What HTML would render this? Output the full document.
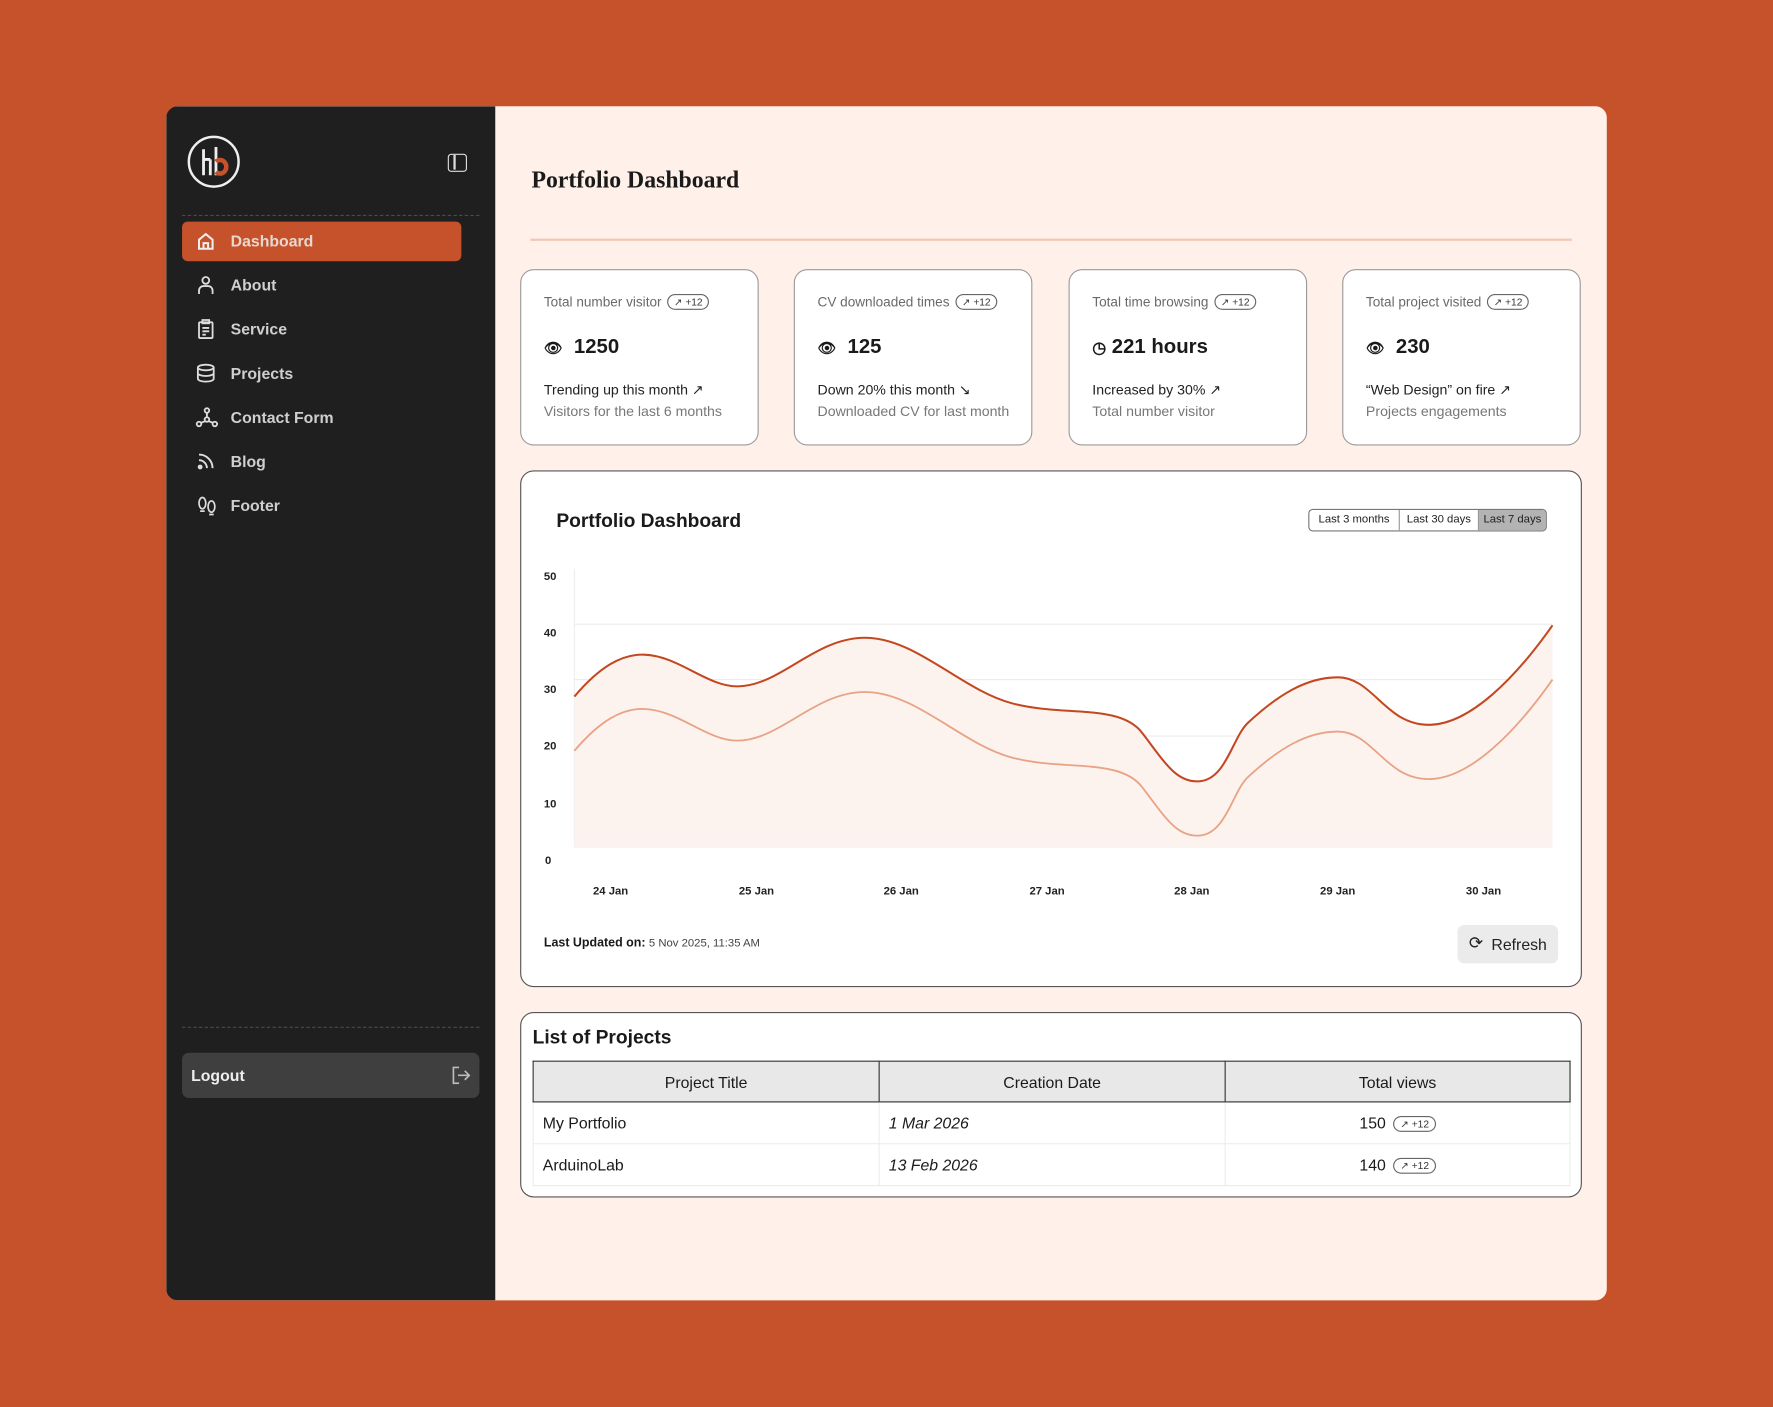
<!DOCTYPE html>
<html><head><meta charset="utf-8"><style>
*{margin:0;padding:0;box-sizing:border-box}
html,body{width:1773px;height:1407px;overflow:hidden;background:#C5522A}
#s{position:absolute;left:0;top:0;width:1568px;height:1244px;transform:scale(1.13074);transform-origin:0 0;font-family:"Liberation Sans",sans-serif;}
.a{position:absolute}
.card{position:absolute;left:147px;top:94px;width:1274px;height:1056px;border-radius:10px;overflow:hidden;background:#FFF0E9}
.side{position:absolute;left:0;top:0;width:291px;height:1056px;background:#1f1f1f}
.mi{position:absolute;left:14px;width:247px;height:35px;color:#cfcfcf;font-size:14px;font-weight:bold;line-height:35px;padding-left:43px}
.mi svg{position:absolute;left:12px;top:8px}
.stat{position:absolute;top:238px;width:211px;height:156px;background:#fff;border:1.3px solid #9a9a9a;border-radius:12px}
.lab{position:absolute;left:20px;top:21px;font-size:12px;color:#6a6a6a;white-space:nowrap}
.badge{display:inline-block;border:1px solid #666;border-radius:8px;font-size:9px;color:#333;padding:0 5px;margin-left:5px;line-height:12px;vertical-align:1px}
.val{position:absolute;left:20px;top:57px;font-size:18px;font-weight:bold;color:#1a1a1a;white-space:nowrap}
.l1{position:absolute;left:20px;top:98px;font-size:12.5px;color:#222;white-space:nowrap}
.l2{position:absolute;left:20px;top:118px;font-size:12.5px;color:#777;white-space:nowrap}
.yl{position:absolute;left:20px;font-size:10px;font-weight:bold;color:#222}
.xl{position:absolute;top:366px;font-size:10px;font-weight:bold;color:#222;width:60px;text-align:center}
td,th{border:1px solid #ececec;height:37px;font-size:14px;color:#1a1a1a;font-weight:normal}
th{background:#e8e8e8;border:1.5px solid #333;height:36px}
</style></head><body><div id="s">
<div class="card">
 <div class="side">
  <svg class="a" style="left:18px;top:25px" width="50" height="50" viewBox="0 0 50 50"><circle cx="24" cy="24" r="22" fill="none" stroke="#eee" stroke-width="2.2"/><path d="M15 13v23M15 22h6M21 22v14M26 11v25" stroke="#eee" stroke-width="2.5" fill="none"/><path d="M26 24a5.5 6 0 1 1 0 9" stroke="#C5522A" stroke-width="4" fill="none"/></svg>
  <div class="a" style="left:249px;top:42px;width:17px;height:16px;border:1.5px solid #ddd;border-radius:3px"><div style="position:absolute;left:4px;top:0;width:1.5px;height:13px;background:#ddd"></div></div>
  <div class="a" style="left:14px;top:96px;width:263px;border-top:1px dashed #4a4a4a"></div>
  <div class="mi" style="top:102px;background:#C5522A;border-radius:5px;color:#e6d8d0">
   <svg width="18" height="18" viewBox="0 0 18 18" fill="none" stroke="#eee" stroke-width="1.8"><path d="M3 8l6-5 6 5v8H3zM7 16v-5h4v5"/></svg>Dashboard</div>
  <div class="mi" style="top:141px"><svg width="18" height="18" viewBox="0 0 18 18" fill="none" stroke="#ddd" stroke-width="1.6"><circle cx="9" cy="5" r="3"/><path d="M3 17v-3a4 4 0 0 1 4-4h4a4 4 0 0 1 4 4v3"/></svg>About</div>
  <div class="mi" style="top:180px"><svg width="18" height="18" viewBox="0 0 18 18" fill="none" stroke="#ddd" stroke-width="1.6"><rect x="3" y="3" width="12" height="14" rx="1"/><path d="M6 1h6v3H6zM6 8h6M6 11h6M6 14h3"/></svg>Service</div>
  <div class="mi" style="top:219px"><svg width="18" height="18" viewBox="0 0 18 18" fill="none" stroke="#ddd" stroke-width="1.6"><ellipse cx="9" cy="4" rx="7" ry="2.5"/><path d="M2 4v10c0 1.4 3 2.5 7 2.5s7-1.1 7-2.5V4M2 9c0 1.4 3 2.5 7 2.5s7-1.1 7-2.5"/></svg>Projects</div>
  <div class="mi" style="top:258px"><svg width="20" height="18" viewBox="0 0 20 18" fill="none" stroke="#ddd" stroke-width="1.6"><circle cx="10" cy="3" r="2"/><circle cx="3" cy="15" r="2"/><circle cx="17" cy="15" r="2"/><circle cx="10" cy="11" r="2"/><path d="M10 5v4M8.5 12.5l-4 1.5M11.5 12.5l4 1.5"/></svg>Contact Form</div>
  <div class="mi" style="top:297px"><svg width="18" height="18" viewBox="0 0 18 18" fill="none" stroke="#ddd" stroke-width="1.7"><path d="M3 3a12 12 0 0 1 12 12M3 8a7 7 0 0 1 7 7"/><circle cx="4" cy="14" r="1.3" fill="#ddd"/></svg>Blog</div>
  <div class="mi" style="top:336px"><svg width="20" height="20" viewBox="0 0 20 20" fill="none" stroke="#ddd" stroke-width="1.5"><ellipse cx="6" cy="7" rx="3" ry="5"/><ellipse cx="14" cy="10" rx="3" ry="5"/><path d="M4 14h4M12 17h4"/></svg>Footer</div>
  <div class="a" style="left:14px;top:814px;width:263px;border-top:1px dashed #4a4a4a"></div>
  <div class="a" style="left:14px;top:837px;width:263px;height:40px;background:#3f3f3f;border-radius:6px;color:#eee;font-size:14px;font-weight:bold;line-height:40px;padding-left:8px">Logout
   <svg class="a" style="right:8px;top:12px" width="17" height="16" viewBox="0 0 17 16" fill="none" stroke="#bbb" stroke-width="1.5"><path d="M7 1H2v14h5M6 8h10M12 4l4 4-4 4"/></svg></div>
 </div>
 <div class="a" style="left:323px;top:53px;font-family:'Liberation Serif',serif;font-weight:bold;font-size:21px;color:#1a1a1a">Portfolio Dashboard</div>
 <div class="a" style="left:322px;top:117px;width:921px;height:2px;background:#f3c7b5"></div>
</div>

<div class="stat" style="left:460px"><div class="lab">Total number visitor<span class="badge">↗ +12</span></div><div class="val"><span style="font-size:13px">👁&#xFE0E;</span>&nbsp; 1250</div><div class="l1">Trending up this month ↗</div><div class="l2">Visitors for the last 6 months</div></div>
<div class="stat" style="left:702px"><div class="lab">CV downloaded times<span class="badge">↗ +12</span></div><div class="val"><span style="font-size:13px">👁&#xFE0E;</span>&nbsp; 125</div><div class="l1">Down 20% this month ↘</div><div class="l2">Downloaded CV for last month</div></div>
<div class="stat" style="left:945px"><div class="lab">Total time browsing<span class="badge">↗ +12</span></div><div class="val"><span style="font-size:14px">◷</span> 221 hours</div><div class="l1">Increased by 30% ↗</div><div class="l2">Total number visitor</div></div>
<div class="stat" style="left:1187px"><div class="lab">Total project visited<span class="badge">↗ +12</span></div><div class="val"><span style="font-size:13px">👁&#xFE0E;</span>&nbsp; 230</div><div class="l1">“Web Design” on fire ↗</div><div class="l2">Projects engagements</div></div>

<div class="a" style="left:460px;top:416px;width:939px;height:457px;background:#fff;border:1.3px solid #555;border-radius:12px">
 <div class="a" style="left:31px;top:34px;font-size:17px;font-weight:bold;color:#1a1a1a">Portfolio Dashboard</div>
 <div class="a" style="left:696px;top:33px;width:211px;height:20px;border:1px solid #777;border-radius:4px;overflow:hidden;font-size:10px;color:#222;line-height:18px;display:flex">
  <div style="width:80px;text-align:center;border-right:1px solid #999">Last 3 months</div><div style="width:70px;text-align:center;border-right:1px solid #999">Last 30 days</div><div style="flex:1;text-align:center;background:#b3b3b3">Last 7 days</div></div>
 <div class="yl" style="top:88px">50</div><div class="yl" style="top:138px">40</div><div class="yl" style="top:188px">30</div><div class="yl" style="top:238px">20</div><div class="yl" style="top:289px">10</div><div class="yl" style="top:339px;left:21px">0</div>
 <div class="xl" style="left:49px">24 Jan</div><div class="xl" style="left:178px">25 Jan</div><div class="xl" style="left:306px">26 Jan</div><div class="xl" style="left:435px">27 Jan</div><div class="xl" style="left:563px">28 Jan</div><div class="xl" style="left:692px">29 Jan</div><div class="xl" style="left:821px">30 Jan</div>
 <div class="a" style="left:20px;top:411px;font-size:11px;font-weight:bold;color:#1a1a1a">Last Updated on: <span style="font-weight:normal;font-size:10px;color:#444">5 Nov 2025, 11:35 AM</span></div>
 <div class="a" style="left:828px;top:401px;width:89px;height:34px;background:#ebebeb;border-radius:6px;font-size:14px;color:#222;line-height:34px;text-align:right;padding-right:10px"><span style="position:absolute;left:10px;font-size:15px">⟳</span>Refresh</div>
</div>
<svg class="a" style="left:0;top:0" width="1568" height="1244">
 <line x1="508" y1="503" x2="508" y2="749" stroke="#eee"/>
 <g stroke="#ececec"><line x1="508" y1="552" x2="1373" y2="552"/><line x1="508" y1="601" x2="1373" y2="601"/><line x1="508" y1="651" x2="1373" y2="651"/><line x1="508" y1="700" x2="1373" y2="700"/><line x1="508" y1="749" x2="1373" y2="749"/></g>
 <path d="M508,616 C530,590 550,578 570,579 C600,580 625,607 652,607 C690,607 720,564 765,564 C810,564 850,610 895,622 C940,634 990,622 1010,648 C1030,674 1040,692 1060,691 C1085,690 1090,650 1105,638 C1130,615 1155,599 1183,599 C1215,599 1225,642 1265,641 C1300,640 1340,600 1373,553 L1373,749 L508,749Z" fill="#fcf3ef"/>
 <path transform="translate(0,48)" d="M508,616 C530,590 550,578 570,579 C600,580 625,607 652,607 C690,607 720,564 765,564 C810,564 850,610 895,622 C940,634 990,622 1010,648 C1030,674 1040,692 1060,691 C1085,690 1090,650 1105,638 C1130,615 1155,599 1183,599 C1215,599 1225,642 1265,641 C1300,640 1340,600 1373,553" fill="none" stroke="#e8a385" stroke-width="1.6"/>
 <path d="M508,616 C530,590 550,578 570,579 C600,580 625,607 652,607 C690,607 720,564 765,564 C810,564 850,610 895,622 C940,634 990,622 1010,648 C1030,674 1040,692 1060,691 C1085,690 1090,650 1105,638 C1130,615 1155,599 1183,599 C1215,599 1225,642 1265,641 C1300,640 1340,600 1373,553" fill="none" stroke="#c4481f" stroke-width="1.8"/>
</svg>

<div class="a" style="left:460px;top:895px;width:939px;height:164px;background:#fff;border:1.3px solid #555;border-radius:12px">
 <div class="a" style="left:10px;top:12px;font-size:17px;font-weight:bold;color:#1a1a1a">List of Projects</div>
 <table class="a" style="left:10px;top:42px;width:918px;border-collapse:collapse">
  <tr><th style="width:306px">Project Title</th><th style="width:306px">Creation Date</th><th>Total views</th></tr>
  <tr><td style="padding-left:8px">My Portfolio</td><td style="padding-left:8px;font-style:italic">1 Mar 2026</td><td style="text-align:center">150 <span class="badge" style="margin-left:3px">↗ +12</span></td></tr>
  <tr><td style="padding-left:8px">ArduinoLab</td><td style="padding-left:8px;font-style:italic">13 Feb 2026</td><td style="text-align:center">140 <span class="badge" style="margin-left:3px">↗ +12</span></td></tr>
 </table>
</div>
</div></body></html>
